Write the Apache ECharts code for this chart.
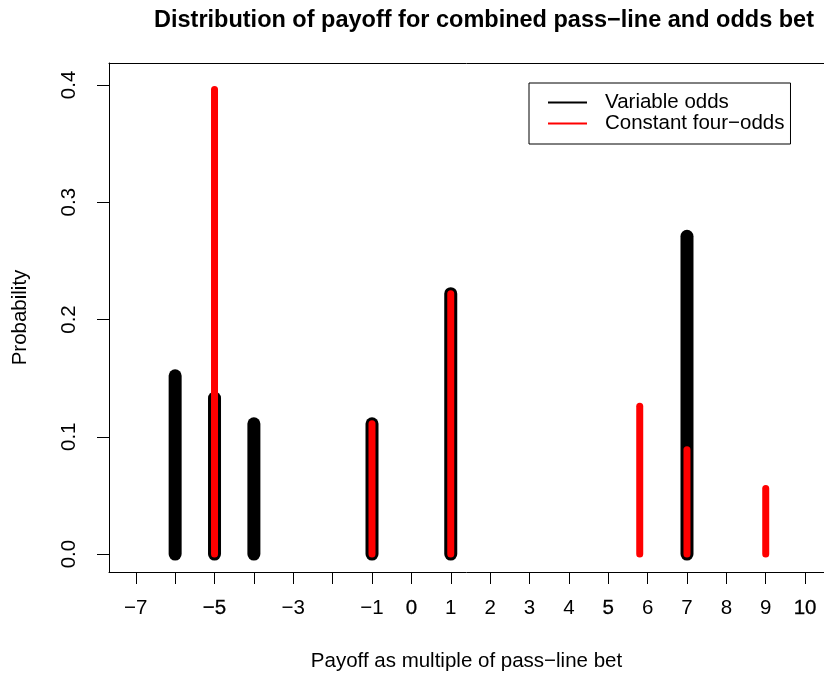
<!DOCTYPE html>
<html>
<head>
<meta charset="utf-8">
<script src="https://cdn.jsdelivr.net/npm/echarts@6/dist/echarts.min.js"></script>
<style>html,body{margin:0;padding:0;background:#fff}#c{width:824px;height:677px}</style>
</head>
<body>
<div id="c"></div>
<script>
// Data
const varX = [-6, -5, -4, -1, 1, 7];
const varP = [0.152, 0.133, 0.111, 0.111, 0.222, 0.271];
const constX = [-5, -1, 1, 5.8, 7, 9];
const constP = [0.396, 0.111, 0.222, 0.126, 0.089, 0.056];
const xTicks = [-7,-6,-5,-4,-3,-2,-1,0,1,2,3,4,5,6,7,8,9,10];
const xLabels = [-7,-5,-3,-1,0,1,2,3,4,5,6,7,8,9,10];
const xBoldLabels = [-5,0,5,10];
const yTicks = [0, 0.1, 0.2, 0.3, 0.4];

const FONT = '"Liberation Sans", Arial, Helvetica, sans-serif';
const FS = 20.5;
const minus = v => (v < 0 ? '\u2212' + Math.abs(v) : String(v));

function hSeries(name, xs, ys, color, width) {
  return {
    name: name,
    type: 'custom',
    itemStyle: { color: color },
    data: xs.map((x, i) => [x, ys[i]]),
    encode: { x: 0, y: 1 },
    clip: false,
    renderItem: function (params, api) {
      const x = api.value(0), y = api.value(1);
      const p0 = api.coord([x, 0]);
      const p1 = api.coord([x, y]);
      return {
        type: 'line',
        shape: { x1: p0[0], y1: p0[1], x2: p1[0], y2: p1[1] },
        style: { stroke: color, lineWidth: width, lineCap: 'round' }
      };
    }
  };
}

const chart = echarts.init(document.getElementById('c'), null, { renderer: 'canvas' });
chart.setOption({
  animation: false,
  backgroundColor: '#fff',
  textStyle: { fontFamily: FONT },
  title: {
    text: 'Distribution of payoff for combined pass\u2212line and odds bet',
    left: 149, top: 4,
    textStyle: { fontFamily: FONT, fontSize: 23.5, fontWeight: 'bold', color: '#000' }
  },
  legend: {
    left: 529, top: 83,
    orient: 'vertical',
    backgroundColor: '#fff',
    borderColor: '#000', borderWidth: 1, borderRadius: 0,
    padding: [9, 6, 10, 19],
    itemGap: 0,
    itemWidth: 39, itemHeight: 2,
    icon: 'rect',
    textStyle: { fontFamily: FONT, fontSize: FS, color: '#000', lineHeight: 20, padding: [0, 0, 0, 13] },
    data: ['Variable odds', 'Constant four\u2212odds'],
    selectedMode: false
  },
  grid: { left: 109, right: 0, top: 63, bottom: 103, show: false },
  xAxis: [{
    type: 'value',
    min: -7.68, max: 10.48,
    name: 'Payoff as multiple of pass\u2212line bet',
    nameLocation: 'middle', nameGap: 79,
    nameTextStyle: { fontFamily: FONT, fontSize: FS, color: '#000', padding: [0, 0, 0, 0] },
    axisLine: { show: true, onZero: false, lineStyle: { color: '#000', width: 1 } },
    axisTick: { show: true, length: 12, lineStyle: { color: '#000' }, customValues: xTicks },
    axisLabel: {
      margin: 26, fontFamily: FONT, fontSize: FS, color: '#000',
      customValues: xLabels,
      formatter: function (v) {
        const s = minus(Math.round(v));
        return xBoldLabels.indexOf(Math.round(v)) >= 0 ? '{b|' + s + '}' : s;
      },
      rich: { b: { fontFamily: FONT, fontSize: FS, color: '#000', textBorderColor: '#000', textBorderWidth: 0.3 } }
    },
    splitLine: { show: false }
  }, {
    type: 'value', position: 'top',
    min: -7.68, max: 10.48,
    axisLine: { show: true, onZero: false, lineStyle: { color: '#000', width: 1 } },
    axisTick: { show: false }, axisLabel: { show: false }, splitLine: { show: false }
  }],
  yAxis: {
    type: 'value',
    min: -0.0153, max: 0.4187,
    name: 'Probability',
    nameLocation: 'middle', nameGap: 78, nameRotate: 90,
    nameTextStyle: { fontFamily: FONT, fontSize: FS, color: '#000' },
    axisLine: { show: true, onZero: false, lineStyle: { color: '#000', width: 1 } },
    axisTick: { show: true, length: 12, lineStyle: { color: '#000' }, customValues: yTicks },
    axisLabel: {
      rotate: 90, margin: 29, fontFamily: FONT, fontSize: FS, color: '#000',
      customValues: yTicks,
      formatter: v => v.toFixed(1)
    },
    splitLine: { show: false }
  },
  series: [
    hSeries('Variable odds', varX, varP, '#000000', 13),
    hSeries('Constant four\u2212odds', constX, constP, '#ff0000', 7)
  ]
});
</script>
</body>
</html>
